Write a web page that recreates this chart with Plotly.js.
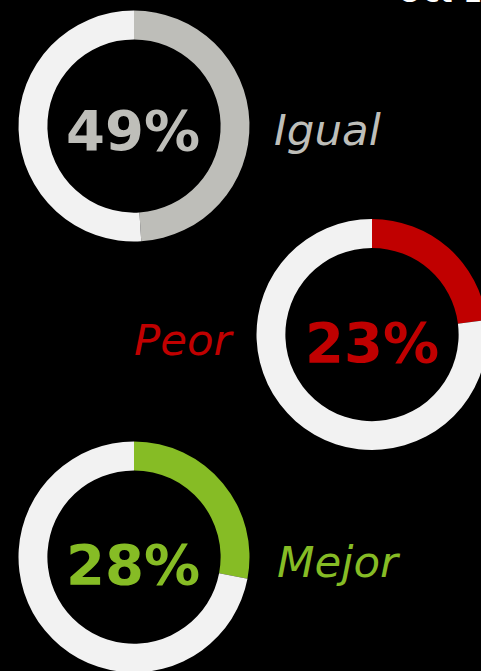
<!DOCTYPE html>
<html>
<head>
<meta charset="utf-8">
<script src="https://cdn.plot.ly/plotly-3.0.1.min.js"></script>
<style>
html,body{margin:0;padding:0;background:#000;overflow:hidden;width:481px;height:671px;}
#chart{position:absolute;left:0;top:-40px;width:500px;height:740px;}
</style>
</head>
<body>
<div id="chart"></div>
<script>
// Data
var titleText = 'Oct 19';
var categories = ['Igual', 'Peor', 'Mejor'];
var shares = [49, 23, 28];
var seriesColors = ['#BEBEB9', '#C00000', '#86BC25'];
var restColor = '#F2F2F2';

// Layout helpers (layout is 500x740, shifted up by 40px in the window)
var W = 500, H = 740, OFF = 40;
function px(x){ return x / W; }
function py(y){ return 1 - (y + OFF) / H; }

// donut centers in window pixels
var centers = [[134, 126], [372, 334.5], [134, 557]];
var R = 115.5;

var traces = [];
for (var i = 0; i < categories.length; i++) {
  var c = centers[i];
  traces.push({
    type: 'pie',
    values: [shares[i], 100 - shares[i]],
    labels: [categories[i], 'resto'],
    marker: {colors: [seriesColors[i], restColor], line: {width: 0}},
    hole: 0.75,
    sort: false,
    direction: 'clockwise',
    rotation: 0,
    textinfo: 'none',
    hoverinfo: 'none',
    domain: {x: [px(c[0] - R), px(c[0] + R)], y: [py(c[1] + R), py(c[1] - R)]}
  });
}

var pctPos = [[132.5, 130.6], [371.5, 342.3], [132.5, 564.6]];
var labelPos = [[272, 130, 'left'], [237, 340, 'right'], [275, 562, 'left']];
var annotations = [];
for (var j = 0; j < categories.length; j++) {
  annotations.push({
    xref: 'paper', yref: 'paper', x: px(pctPos[j][0]), y: py(pctPos[j][1]),
    xanchor: 'center', yanchor: 'middle', showarrow: false,
    text: shares[j] + '%',
    font: {family: 'DejaVu Sans', size: 56, color: seriesColors[j], weight: 'bold'}
  });
  annotations.push({
    xref: 'paper', yref: 'paper', x: px(labelPos[j][0]), y: py(labelPos[j][1]),
    xanchor: labelPos[j][2], yanchor: 'middle', showarrow: false,
    text: categories[j],
    font: {family: 'DejaVu Sans', size: 43.5, color: seriesColors[j], style: 'italic'}
  });
}
annotations.push({
  xref: 'paper', yref: 'paper', x: px(395), y: py(-9),
  xanchor: 'left', yanchor: 'middle', showarrow: false,
  text: titleText,
  font: {family: 'DejaVu Sans', size: 32, color: '#FFFFFF'}
});

var layout = {
  width: W, height: H,
  margin: {l: 0, r: 0, t: 0, b: 0, pad: 0},
  paper_bgcolor: '#000000', plot_bgcolor: '#000000',
  showlegend: false,
  annotations: annotations
};

Plotly.newPlot('chart', traces, layout, {displayModeBar: false, staticPlot: true});
</script>
</body>
</html>
